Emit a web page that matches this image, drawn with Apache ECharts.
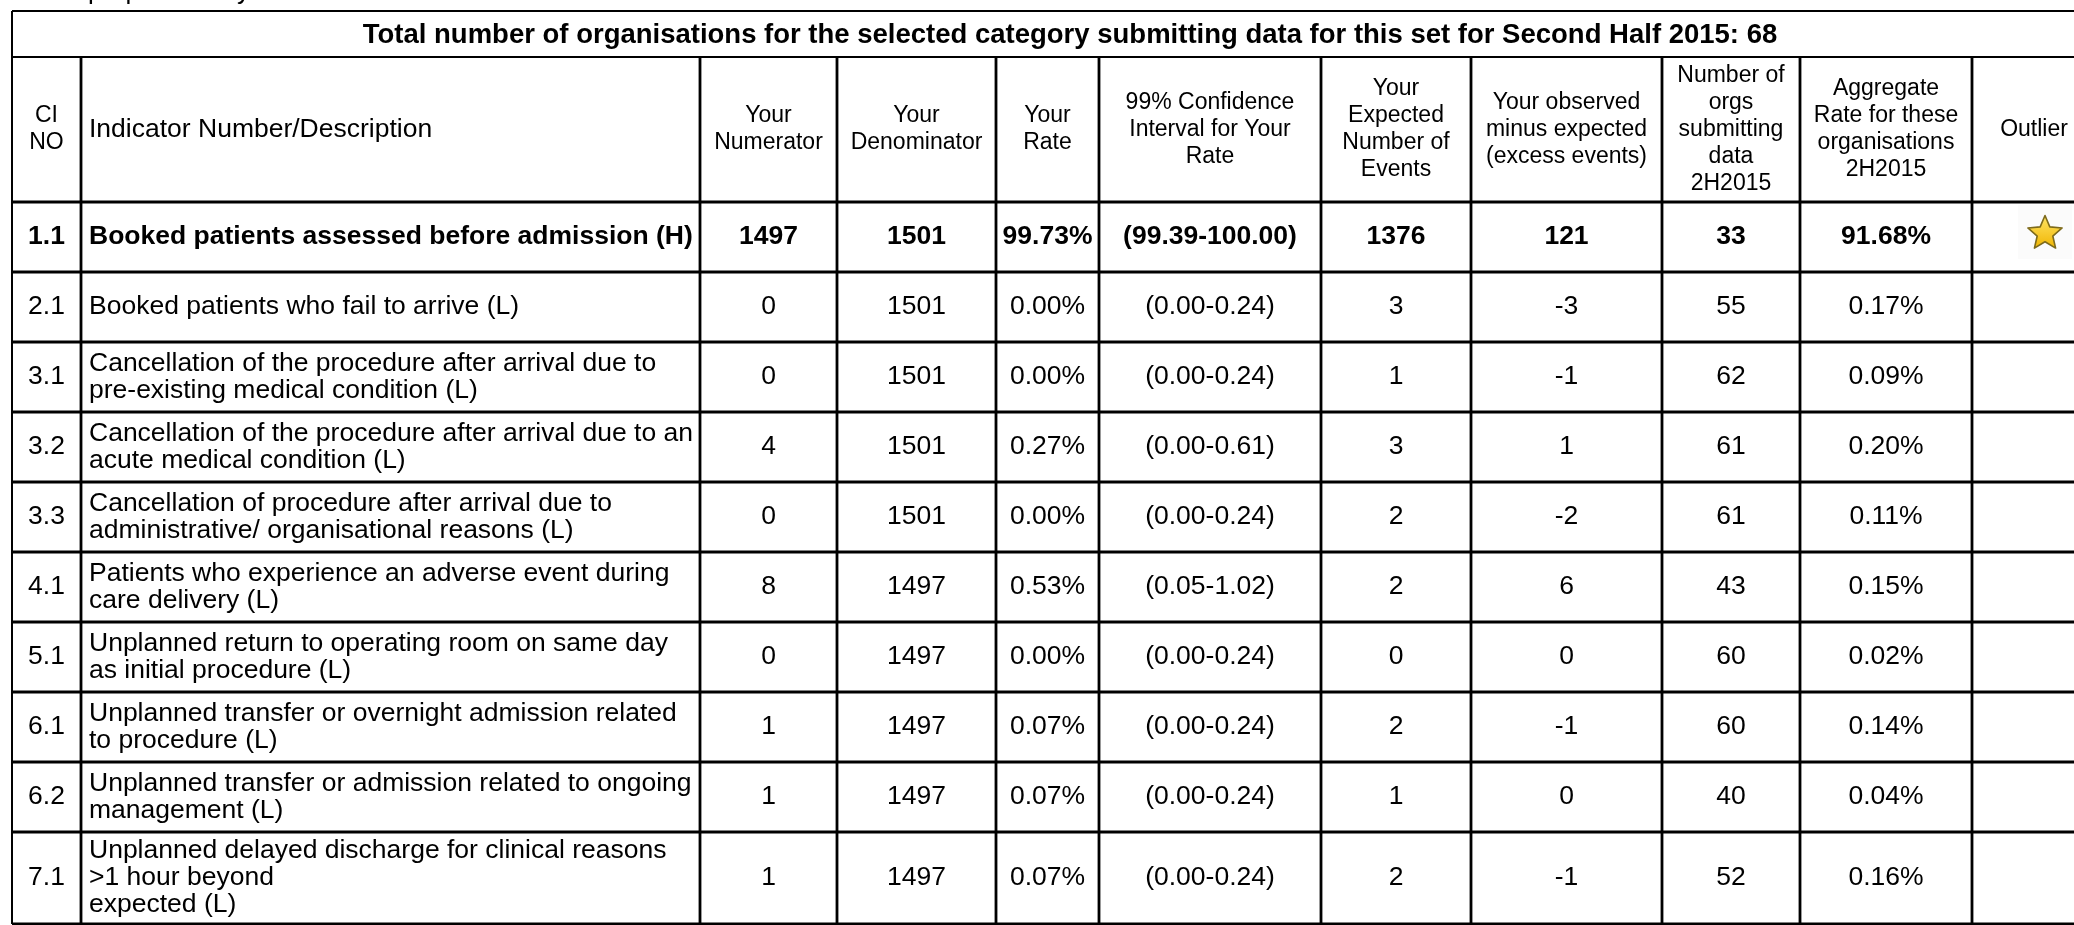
<!DOCTYPE html>
<html><head><meta charset="utf-8">
<script src="https://cdn.jsdelivr.net/npm/echarts@6/dist/echarts.min.js"></script>
<style>html,body{margin:0;padding:0;background:#fff;overflow:hidden}#c{width:2074px;height:925px}</style>
</head><body><div id="c"></div>
<script>
// ---------------- data ----------------
const titleText = 'Total number of organisations for the selected category submitting data for this set for Second Half 2015: 68';
const clippedNote = 'purposes only.';
const headers = ['CI\nNO', 'Indicator Number/Description', 'Your\nNumerator', 'Your\nDenominator', 'Your\nRate',
  '99% Confidence\nInterval for Your\nRate', 'Your\nExpected\nNumber of\nEvents', 'Your observed\nminus expected\n(excess events)',
  'Number of\norgs\nsubmitting\ndata\n2H2015', 'Aggregate\nRate for these\norganisations\n2H2015', 'Outlier'];
const ciNo = ['1.1', '2.1', '3.1', '3.2', '3.3', '4.1', '5.1', '6.1', '6.2', '7.1'];
const descriptions = [
  'Booked patients assessed before admission (H)',
  'Booked patients who fail to arrive (L)',
  'Cancellation of the procedure after arrival due to\npre-existing medical condition (L)',
  'Cancellation of the procedure after arrival due to an\nacute medical condition (L)',
  'Cancellation of procedure after arrival due to\nadministrative/ organisational reasons (L)',
  'Patients who experience an adverse event during\ncare delivery (L)',
  'Unplanned return to operating room on same day\nas initial procedure (L)',
  'Unplanned transfer or overnight admission related\nto procedure (L)',
  'Unplanned transfer or admission related to ongoing\nmanagement (L)',
  'Unplanned delayed discharge for clinical reasons\n>1 hour beyond\nexpected (L)'
];
const numerators = [1497, 0, 0, 4, 0, 8, 0, 1, 1, 1];
const denominators = [1501, 1501, 1501, 1501, 1501, 1497, 1497, 1497, 1497, 1497];
const rates = [99.73, 0.00, 0.00, 0.27, 0.00, 0.53, 0.00, 0.07, 0.07, 0.07];
const ciLower = [99.39, 0.00, 0.00, 0.00, 0.00, 0.05, 0.00, 0.00, 0.00, 0.00];
const ciUpper = [100.00, 0.24, 0.24, 0.61, 0.24, 1.02, 0.24, 0.24, 0.24, 0.24];
const expectedEvents = [1376, 3, 1, 3, 2, 2, 0, 2, 1, 2];
const excessEvents = [121, -3, -1, 1, -2, 6, 0, -1, 0, -1];
const orgsSubmitting = [33, 55, 62, 61, 61, 43, 60, 60, 40, 52];
const aggregateRates = [91.68, 0.17, 0.09, 0.20, 0.11, 0.15, 0.02, 0.14, 0.04, 0.16];
const outlier = [true, false, false, false, false, false, false, false, false, false];

// ---------------- layout ----------------
const L = {
  colEdges: [12, 81, 700, 837, 996, 1099, 1321, 1471, 1662, 1800, 1972, 2096],
  top: 11, titleH: 46, headerH: 145, rowH: 70, lastRowH: 92,
  font: '"Liberation Sans", Arial, sans-serif'
};
const headerTop = L.top + L.titleH;
const bodyTop = headerTop + L.headerH;
function rowTop(r) { return bodyTop + r * L.rowH; }
function rowBottom(r) { return r === ciNo.length - 1 ? rowTop(r) + L.lastRowH : rowTop(r + 1); }
const tableBottom = rowBottom(ciNo.length - 1);
const tableLeft = L.colEdges[0], tableRight = L.colEdges[L.colEdges.length - 1];

function cellText(r, c) {
  switch (c) {
    case 0: return ciNo[r];
    case 1: return descriptions[r];
    case 2: return String(numerators[r]);
    case 3: return String(denominators[r]);
    case 4: return rates[r].toFixed(2) + '%';
    case 5: return '(' + ciLower[r].toFixed(2) + '-' + ciUpper[r].toFixed(2) + ')';
    case 6: return String(expectedEvents[r]);
    case 7: return String(excessEvents[r]);
    case 8: return String(orgsSubmitting[r]);
    case 9: return aggregateRates[r].toFixed(2) + '%';
    default: return '';
  }
}

function starPoints(cx, cy, ro, ri) {
  const pts = [];
  for (let i = 0; i < 10; i++) {
    const a = -Math.PI / 2 + i * Math.PI / 5;
    const rr = i % 2 === 0 ? ro : ri;
    pts.push([cx + rr * Math.cos(a), cy + rr * Math.sin(a)]);
  }
  return pts;
}

// cell items: [row, col]; row -1 = header
const cellData = [];
for (let c = 0; c < headers.length; c++) cellData.push([-1, c]);
for (let r = 0; r < ciNo.length; r++) for (let c = 0; c < headers.length; c++) cellData.push([r, c]);

function renderCell(params, api) {
  const r = api.value(0), c = api.value(1);
  const x0 = L.colEdges[c], x1 = L.colEdges[c + 1];
  const y0 = r < 0 ? headerTop : rowTop(r);
  const y1 = r < 0 ? bodyTop : rowBottom(r);
  const cy = (y0 + y1) / 2;
  if (r < 0) {
    const isDesc = c === 1;
    return {
      type: 'text',
      style: {
        text: headers[c], x: isDesc ? x0 + 8 : (x0 + x1) / 2, y: cy,
        align: isDesc ? 'left' : 'center', verticalAlign: 'middle',
        fontFamily: L.font, fontSize: isDesc ? 26.5 : 23, lineHeight: isDesc ? 30 : 27, fill: '#000'
      }
    };
  }
  if (c === 10) {
    if (!outlier[r]) return null;
    const sx = (x0 + x1) / 2 + 11, sy = cy - 5;
    return {
      type: 'group', children: [
        { type: 'rect', shape: { x: sx - 27, y: sy - 27, width: 54, height: 54 }, style: { fill: '#fbfbfb' } },
        { type: 'polygon', shape: { points: starPoints(sx, sy + 1.5, 18, 8.2) },
          style: { fill: new echarts.graphic.LinearGradient(0, 0, 0, 1, [
              { offset: 0, color: '#ffe566' }, { offset: 1, color: '#f0b400' }]),
            stroke: '#7d6a1c', lineWidth: 1.6, lineJoin: 'round' } }
      ]
    };
  }
  const isDesc = c === 1;
  return {
    type: 'text',
    style: {
      text: cellText(r, c), x: isDesc ? x0 + 8 : (x0 + x1) / 2, y: cy,
      align: isDesc ? 'left' : 'center', verticalAlign: 'middle',
      fontFamily: L.font, fontSize: 26.5, lineHeight: 27,
      fontWeight: outlier[r] ? 'bold' : 'normal', fill: '#000'
    }
  };
}

// grid lines
const lineData = [];
// horizontal lines: [x0, y, x1, y, width]
lineData.push([tableLeft, L.top, 2074, L.top, 2]);
lineData.push([tableLeft, headerTop, 2074, headerTop, 2.2]);
lineData.push([tableLeft, bodyTop, 2074, bodyTop, 2.8]);
for (let r = 0; r < ciNo.length; r++) lineData.push([tableLeft, rowBottom(r), 2074, rowBottom(r), 2.8]);
// vertical lines
lineData.push([tableLeft, L.top, tableLeft, tableBottom, 2]);
for (let i = 1; i < L.colEdges.length - 1; i++) lineData.push([L.colEdges[i], headerTop, L.colEdges[i], tableBottom, 2.8]);

function renderLine(params, api) {
  return {
    type: 'line',
    shape: { x1: api.value(0), y1: api.value(1), x2: api.value(2), y2: api.value(3) },
    style: { stroke: '#000', lineWidth: api.value(4) }
  };
}

const chart = echarts.init(document.getElementById('c'), null, { renderer: 'canvas' });
chart.setOption({
  backgroundColor: '#fff',
  animation: false,
  series: [
    { type: 'custom', coordinateSystem: 'none', data: cellData, renderItem: renderCell, silent: true },
    { type: 'custom', coordinateSystem: 'none', data: lineData, renderItem: renderLine, silent: true, z: 3 }
  ],
  graphic: [
    { type: 'text', x: 0, y: 0, style: {
        text: titleText, x: 1070, y: L.top + L.titleH / 2 + 1, align: 'center', verticalAlign: 'middle',
        fontFamily: L.font, fontSize: 27.5, fontWeight: 'bold', fill: '#000' } },
    { type: 'text', x: 0, y: 0, style: {
        text: clippedNote, x: 88, y: 5, align: 'left', verticalAlign: 'bottom', lineHeight: 26,
        fontFamily: L.font, fontSize: 26, fill: '#000' } }
  ]
});
</script></body></html>
